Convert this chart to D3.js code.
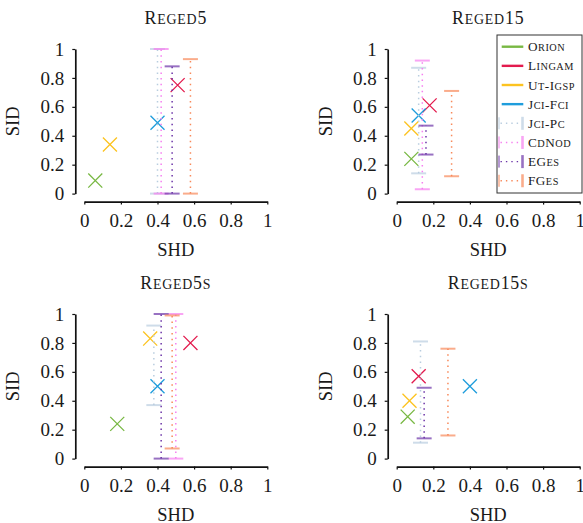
<!DOCTYPE html>
<html>
<head>
<meta charset="utf-8">
<script src="https://cdn.jsdelivr.net/npm/d3@7"></script>
<style>
  body { margin: 0; background: #fff; }
  svg { display: block; }
  text { font-family: "Liberation Serif", serif; fill: #1a1a1a; }
</style>
</head>
<body>
<svg id="chart"></svg>
<script>
// panels and ticks
const panels = ["Reged5", "Reged15", "Reged5s", "Reged15s"];
const tickValues = [0, 0.2, 0.4, 0.6, 0.8, 1];

// methods shown as single points (SHD, SID) per panel
const pointNames = ["Orion", "Lingam", "Ut-Igsp", "Jci-Fci"];
const pointColors = ["#78b843", "#e31b4e", "#fcc320", "#1f9ddc"];
const orionShd = [0.06, 0.08, 0.18, 0.06];
const orionSid = [0.09, 0.24, 0.24, 0.29];
const lingamShd = [0.51, 0.18, 0.58, 0.12];
const lingamSid = [0.75, 0.61, 0.80, 0.57];
const utIgspShd = [0.14, 0.08, 0.36, 0.07];
const utIgspSid = [0.34, 0.45, 0.83, 0.40];
const jciFciShd = [0.40, 0.12, 0.40, 0.40];
const jciFciSid = [0.49, 0.54, 0.50, 0.50];

// methods shown as SID ranges at one SHD value per panel
const barNames = ["Jci-Pc", "CdNod", "EGes", "FGes"];
const barColors = ["#b9cddf", "#f67ff0", "#6c34a8", "#f8895a"];
const jciPcShd = [0.40, 0.12, 0.38, 0.13];
const jciPcLow = [0, 0.14, 0.37, 0.11];
const jciPcHigh = [1, 0.87, 0.92, 0.81];
const cdNodShd = [0.42, 0.14, 0.50, null];
const cdNodLow = [0, 0.03, 0, null];
const cdNodHigh = [1, 0.92, 1, null];
const eGesShd = [0.48, 0.16, 0.42, 0.15];
const eGesLow = [0, 0.27, 0, 0.14];
const eGesHigh = [0.88, 0.47, 1, 0.49];
const fGesShd = [0.58, 0.30, 0.48, 0.28];
const fGesLow = [0, 0.12, 0.07, 0.16];
const fGesHigh = [0.93, 0.71, 0.99, 0.76];

const pointShd = [orionShd, lingamShd, utIgspShd, jciFciShd];
const pointSid = [orionSid, lingamSid, utIgspSid, jciFciSid];
const barShd = [jciPcShd, cdNodShd, eGesShd, fGesShd];
const barLow = [jciPcLow, cdNodLow, eGesLow, fGesLow];
const barHigh = [jciPcHigh, cdNodHigh, eGesHigh, fGesHigh];

const width = 583;
const height = 523;
const cols = [84.3, 396.7];
const rows = [49, 314];
const plotW = 183;
const plotH = 144.6;
const capHalf = 7.5;

const svg = d3.select("#chart").attr("width", width).attr("height", height);

// draws text with lowercase letters as small capitals
function smallCaps(textSel, str, size, ratio) {
  const runs = str.match(/[a-z]+|[^a-z]+/g);
  runs.forEach((r) => {
    const lower = /^[a-z]/.test(r);
    textSel.append("tspan")
      .style("font-size", (lower ? size * ratio : size) + "px")
      .text(r.toUpperCase());
  });
}

const fmt = d3.format("~g");
const cross = d3.symbol(d3.symbolX, 130);

panels.forEach((name, p) => {
  const x0 = cols[p % 2];
  const y0 = rows[Math.floor(p / 2)];

  const x = d3.scaleLinear().domain([0, 1]).range([x0, x0 + plotW]);
  const y = d3.scaleLinear().domain([0, 1]).range([y0 + plotH, y0]);

  const g = svg.append("g");

  // y axis, shifted left of the plot
  const yAxis = g.append("g")
    .attr("transform", `translate(${x0 - 9},0)`)
    .call(d3.axisLeft(y).tickValues(tickValues).tickFormat(fmt)
      .tickSize(3).tickSizeOuter(0).tickPadding(8));

  // x axis, shifted below the plot
  const xAxis = g.append("g")
    .attr("transform", `translate(0,${y0 + plotH + 8})`)
    .call(d3.axisBottom(x).tickValues(tickValues).tickFormat(fmt)
      .tickSize(3).tickSizeOuter(0).tickPadding(9));

  [yAxis, xAxis].forEach((a) => {
    a.select(".domain").attr("stroke", "#111").attr("stroke-width", 1.7);
    a.selectAll(".tick line").attr("stroke", "#111").attr("stroke-width", 1.2);
    a.selectAll("text")
      .attr("fill", "#1a1a1a")
      .style("font-family", '"Liberation Serif", serif')
      .style("font-size", "19px");
  });

  // title
  const title = g.append("text")
    .attr("x", x0 + plotW / 2)
    .attr("y", y0 - 25.5)
    .attr("text-anchor", "middle")
    .style("letter-spacing", "0.8px");
  smallCaps(title, name, 17.8, 0.78);

  // axis titles
  g.append("text")
    .attr("x", x0 + plotW / 2)
    .attr("y", y0 + plotH + 62.5)
    .attr("text-anchor", "middle")
    .style("font-size", "18.5px")
    .text("SHD");

  g.append("text")
    .attr("transform", `translate(${x0 - 65},${y0 + plotH / 2}) rotate(-90)`)
    .attr("text-anchor", "middle")
    .style("font-size", "18.5px")
    .text("SID");

  // point methods
  pointNames.forEach((m, i) => {
    g.append("path")
      .attr("d", cross)
      .attr("transform", `translate(${x(pointShd[i][p])},${y(pointSid[i][p])})`)
      .attr("fill", "none")
      .attr("stroke", pointColors[i])
      .attr("stroke-width", 1.3);
  });

  // range methods
  barNames.forEach((m, i) => {
    const s = barShd[i][p];
    if (s == null) return;
    const lo = barLow[i][p];
    const hi = barHigh[i][p];
    g.append("line")
      .attr("x1", x(s)).attr("x2", x(s))
      .attr("y1", y(lo)).attr("y2", y(hi))
      .attr("stroke", barColors[i])
      .attr("stroke-width", 1.5)
      .attr("stroke-dasharray", "1.5,4.2");
    [lo, hi].forEach((v) => {
      g.append("line")
        .attr("x1", x(s) - capHalf).attr("x2", x(s) + capHalf)
        .attr("y1", y(v)).attr("y2", y(v))
        .attr("stroke", barColors[i])
        .attr("stroke-opacity", 0.7)
        .attr("stroke-width", 2);
    });
  });
});

// legend
const legend = svg.append("g").attr("transform", "translate(497,35)");
legend.append("rect")
  .attr("width", 85).attr("height", 158)
  .attr("fill", "#fff")
  .attr("stroke", "#333")
  .attr("stroke-width", 1);

const legendData = pointNames.map((n, i) => ({ name: n, color: pointColors[i], kind: "point" }))
  .concat(barNames.map((n, i) => ({ name: n, color: barColors[i], kind: "bar" })));

legendData.forEach((d, i) => {
  const row = legend.append("g").attr("transform", `translate(0,${11.7 + i * 19.15})`);
  if (d.kind === "point") {
    row.append("line")
      .attr("x1", 4.7).attr("x2", 26.3)
      .attr("stroke", d.color)
      .attr("stroke-width", 2.4);
  } else {
    row.append("line")
      .attr("x1", 3.5).attr("x2", 24)
      .attr("stroke", d.color)
      .attr("stroke-width", 1.4)
      .attr("stroke-dasharray", "1.4,4");
    row.append("line")
      .attr("x1", 2).attr("x2", 2)
      .attr("y1", -6).attr("y2", 6)
      .attr("stroke", d.color)
      .attr("stroke-width", 1);
    row.append("line")
      .attr("x1", 25.5).attr("x2", 25.5)
      .attr("y1", -6.5).attr("y2", 6.5)
      .attr("stroke", d.color)
      .attr("stroke-opacity", 0.7)
      .attr("stroke-width", 2.6);
  }
  const t = row.append("text")
    .attr("x", 31)
    .attr("y", 4.6)
    .style("letter-spacing", "0.5px");
  smallCaps(t, d.name, 13.2, 0.78);
});
</script>
</body>
</html>
